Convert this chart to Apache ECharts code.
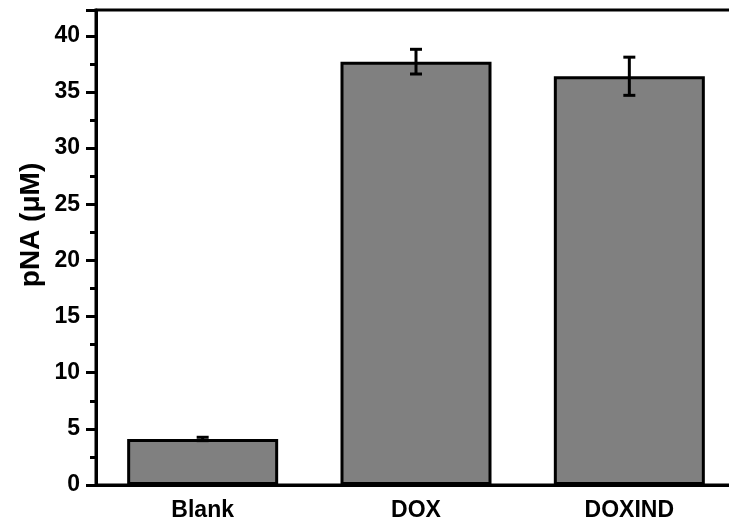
<!DOCTYPE html>
<html>
<head>
<meta charset="utf-8">
<style>
  html, body { margin: 0; padding: 0; background: #fff; }
  #chart { width: 729px; height: 532px; }
</style>
<script src="https://cdn.jsdelivr.net/npm/echarts@6/dist/echarts.min.js"></script>
</head>
<body>
<div id="chart"></div>
<script>
// data
const categories = ['Blank', 'DOX', 'DOXIND'];
const means = [4.1, 37.7, 36.4];
const errors = [0.15, 1.1, 1.7];

const FONT = '"Liberation Sans", Arial, sans-serif';

const chart = echarts.init(document.getElementById('chart'));

// error bar (vertical line + caps) for each category
function renderErrorBar(params, api) {
    const idx = api.value(0);
    const lo = api.coord([idx, api.value(1)]);
    const hi = api.coord([idx, api.value(2)]);
    const half = 6;
    const style = { stroke: '#000', lineWidth: 3 };
    return {
        type: 'group',
        children: [
            { type: 'line', shape: { x1: hi[0], y1: hi[1], x2: lo[0], y2: lo[1] }, style },
            { type: 'line', shape: { x1: hi[0] - half, y1: hi[1], x2: hi[0] + half, y2: hi[1] }, style },
            { type: 'line', shape: { x1: lo[0] - half, y1: lo[1], x2: lo[0] + half, y2: lo[1] }, style }
        ]
    };
}

const errorData = means.map((m, i) => [i, m - errors[i], m + errors[i]]);

chart.setOption({
    animation: false,
    backgroundColor: '#fff',
    // plot runs past the right edge of the picture, like the original crop
    grid: {
        left: 96, top: 10, bottom: 47, right: -7,
        outerBoundsMode: 'none',
        show: true, borderColor: '#000', borderWidth: 3
    },
    graphic: [{
        type: 'text',
        x: 31, y: 225,
        rotation: Math.PI / 2,
        style: {
            text: 'pNA (μM)',
            font: 'bold 28px ' + FONT,
            fill: '#000',
            align: 'center',
            verticalAlign: 'middle'
        }
    }],
    xAxis: {
        type: 'category',
        data: categories,
        axisLine: { lineStyle: { color: '#000', width: 3 } },
        axisTick: { alignWithLabel: true, length: 10, lineStyle: { color: '#000', width: 3 } },
        axisLabel: { color: '#000', fontFamily: FONT, fontWeight: 'bold', fontSize: 23, margin: 14 },
        splitLine: { show: false }
    },
    yAxis: {
        type: 'value',
        min: 0,
        max: 42.3,
        interval: 5,
        axisLine: { show: true, lineStyle: { color: '#000', width: 3 } },
        axisTick: { show: true, length: 10, lineStyle: { color: '#000', width: 3 } },
        minorTick: { show: true, splitNumber: 2, length: 6, lineStyle: { color: '#000', width: 3 } },
        axisLabel: { color: '#000', fontFamily: FONT, fontWeight: 'bold', fontSize: 23, margin: 16, showMaxLabel: false },
        splitLine: { show: false }
    },
    series: [
        {
            type: 'bar',
            data: means,
            barWidth: 151,
            itemStyle: { color: '#808080', borderColor: '#000', borderWidth: 3 }
        },
        {
            type: 'custom',
            renderItem: renderErrorBar,
            data: errorData,
            encode: { x: 0, y: [1, 2] },
            z: 10
        }
    ]
});
</script>
</body>
</html>
